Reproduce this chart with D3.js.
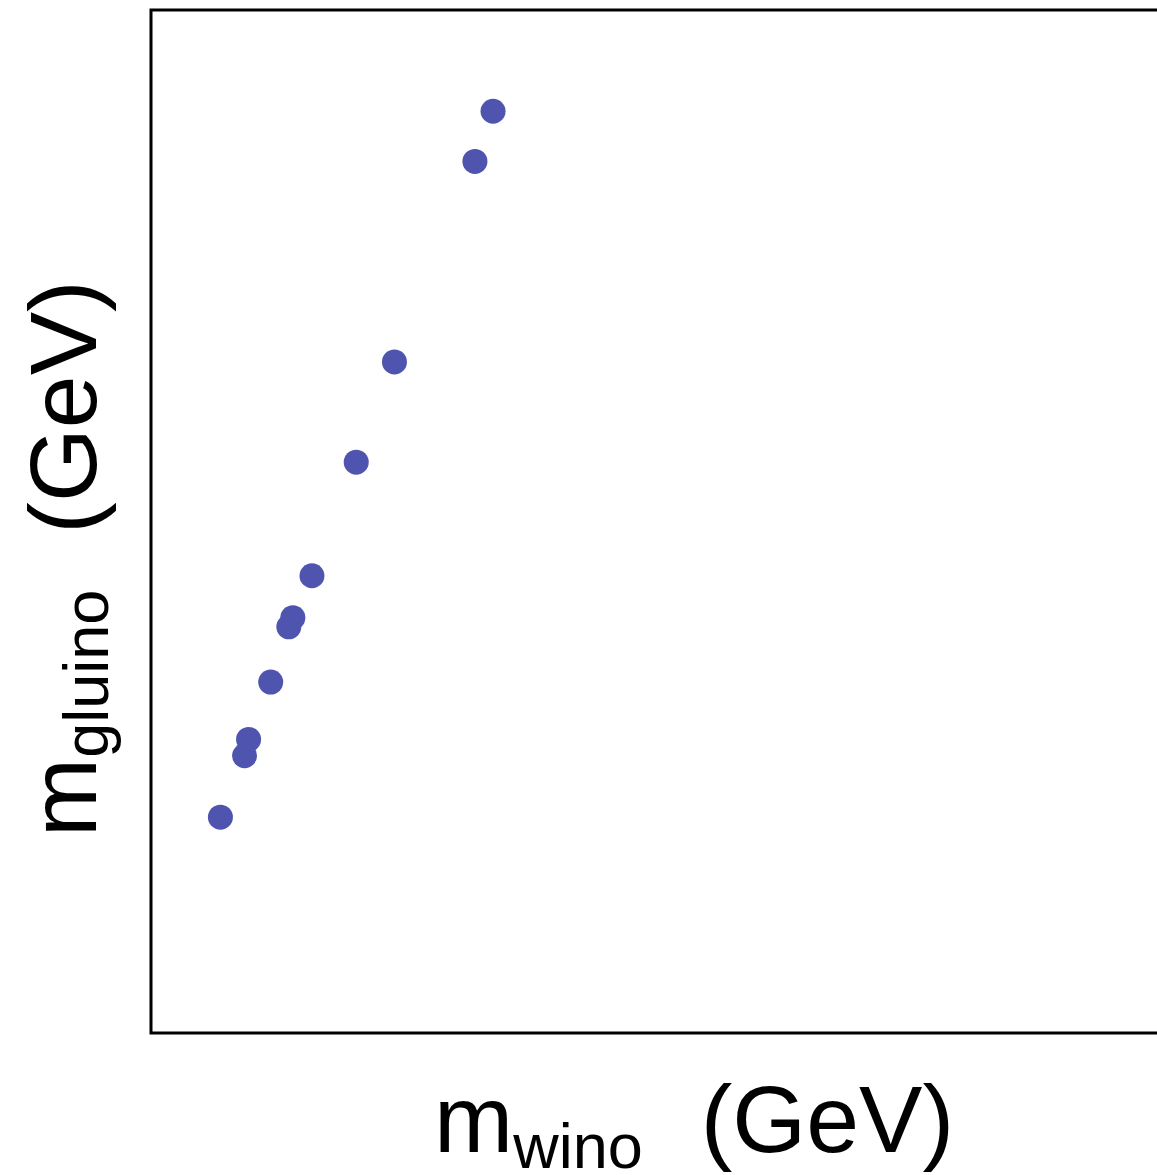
<!DOCTYPE html>
<html>
<head>
<meta charset="utf-8">
<script src="https://cdn.jsdelivr.net/npm/d3@7"></script>
<style>
  html, body { margin: 0; padding: 0; background: #fff; overflow: hidden; }
  svg { display: block; }
</style>
</head>
<body>
<div id="chart"></div>
<script>
// 数据：m_wino 与 m_gluino（任意单位，坐标轴无刻度）
const winoMass   = [34.0, 32.2, 24.2, 20.4, 16.0, 14.1, 13.7, 11.9, 9.7, 9.3, 6.9];
const gluinoMass = [90.1, 85.2, 65.6, 55.8, 44.7, 40.6, 39.7, 34.3, 28.7, 27.1, 21.1];

const W = 1157, H = 1175;
const margin = { top: 10, left: 151, bottom: H - 1033 };
const plotW = 1020, plotH = H - margin.top - margin.bottom;

const svg = d3.select("#chart")
    .append("svg")
    .attr("width", W)
    .attr("height", H);

const x = d3.scaleLinear().domain([0, 100]).range([margin.left, margin.left + 1006]);
const y = d3.scaleLinear().domain([0, 100]).range([margin.top + plotH, margin.top]);

// 边框
svg.append("rect")
    .attr("x", margin.left)
    .attr("y", margin.top)
    .attr("width", plotW)
    .attr("height", plotH)
    .attr("fill", "none")
    .attr("stroke", "#000")
    .attr("stroke-width", 3);

// 散点
const points = winoMass.map((d, i) => ({ x: d, y: gluinoMass[i] }));
svg.append("g")
    .selectAll("circle")
    .data(points)
    .join("circle")
    .attr("cx", d => x(d.x))
    .attr("cy", d => y(d.y))
    .attr("r", 12.5)
    .attr("fill", "#4f55ae");

// X 轴标题
const xt = svg.append("text")
    .attr("x", 434)
    .attr("y", 1152)
    .attr("font-family", "Liberation Sans, Arial, sans-serif")
    .attr("font-size", 95)
    .attr("fill", "#000");
xt.append("tspan").text("m");
xt.append("tspan").attr("font-size", 63).attr("dy", 16).text("wino");
xt.append("tspan").attr("dy", -16).attr("dx", 58).text("(GeV)");

// Y 轴标题
const yt = svg.append("text")
    .attr("transform", "translate(96,837) rotate(-90)")
    .attr("font-family", "Liberation Sans, Arial, sans-serif")
    .attr("font-size", 95)
    .attr("fill", "#000");
yt.append("tspan").text("m");
yt.append("tspan").attr("font-size", 63).attr("dy", 12).text("gluino");
yt.append("tspan").attr("dy", -12).attr("dx", 56).text("(GeV)");
</script>
</body>
</html>
